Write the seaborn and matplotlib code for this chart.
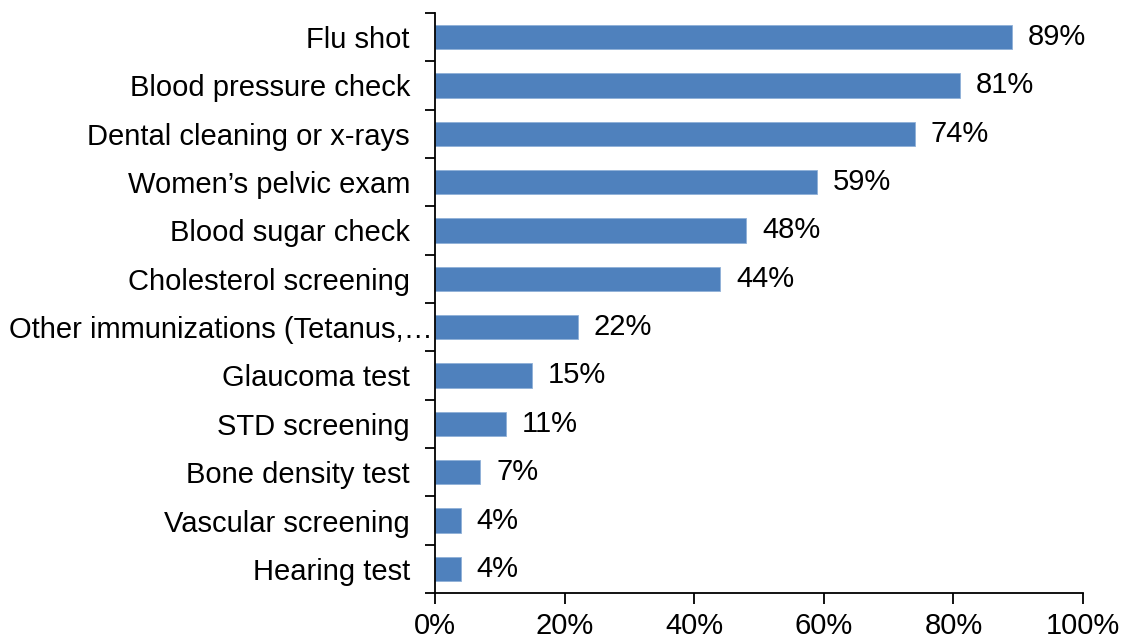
import matplotlib
matplotlib.use("Agg")
import matplotlib.pyplot as plt
import matplotlib.transforms as mtransforms
import seaborn as sns
import pandas as pd
from matplotlib.ticker import FixedLocator, PercentFormatter

categories = [
    "Flu shot",
    "Blood pressure check",
    "Dental cleaning or x-rays",
    "Women\u2019s pelvic exam",
    "Blood sugar check",
    "Cholesterol screening",
    "Other immunizations (Tetanus,\u2026",
    "Glaucoma test",
    "STD screening",
    "Bone density test",
    "Vascular screening",
    "Hearing test",
]
values = [89, 81, 74, 59, 48, 44, 22, 15, 11, 7, 4, 4]
x_ticks = [0, 20, 40, 60, 80, 100]

df = pd.DataFrame({"category": categories, "value": values})

sns.set_style("white")
plt.rcParams["font.family"] = ["Liberation Sans", "DejaVu Sans"]
FS = 21

fig = plt.figure(figsize=(11.28, 6.42), dpi=100)
ax = fig.add_axes([0.3856, 0.0763, 0.5745, 0.9035])

sns.barplot(data=df, x="value", y="category", orient="h", color="#4F81BD",
            width=0.5, edgecolor="#8FB0D8", linewidth=0.6, saturation=1, ax=ax)

ax.set_xlim(0, 100)
ax.set_ylim(len(categories) - 0.5, -0.5)
ax.set_xlabel("")
ax.set_ylabel("")

ax.xaxis.set_major_locator(FixedLocator(x_ticks))
ax.xaxis.set_major_formatter(PercentFormatter(decimals=0))
ax.tick_params(axis="x", which="major", bottom=True, direction="out", length=8,
               width=1.3, color="black", labelsize=FS, labelcolor="black", pad=6)
ax.tick_params(axis="y", which="major", left=True, length=0, labelsize=FS,
               labelcolor="black", pad=18)

# category boundary ticks on the vertical axis
boundaries = [i - 0.5 for i in range(len(categories) + 1)]
ax.yaxis.set_minor_locator(FixedLocator(boundaries))
ax.tick_params(axis="y", which="minor", left=True, direction="out", length=7,
               width=1.3, color="black")

for side in ("top", "right"):
    ax.spines[side].set_visible(False)
for side in ("left", "bottom"):
    ax.spines[side].set_color("black")
    ax.spines[side].set_linewidth(1.3)

ax.bar_label(ax.containers[0], labels=[f"{v}%" for v in values],
             padding=11.5, fontsize=FS, color="black")

# the truncated category label runs right up to the axis line
for lbl in ax.get_yticklabels():
    if lbl.get_text().endswith("\u2026"):
        lbl.set_transform(lbl.get_transform() +
                          mtransforms.ScaledTranslation(0.23, 0, fig.dpi_scale_trans))

fig.savefig("out.png", dpi=100, facecolor="white")
